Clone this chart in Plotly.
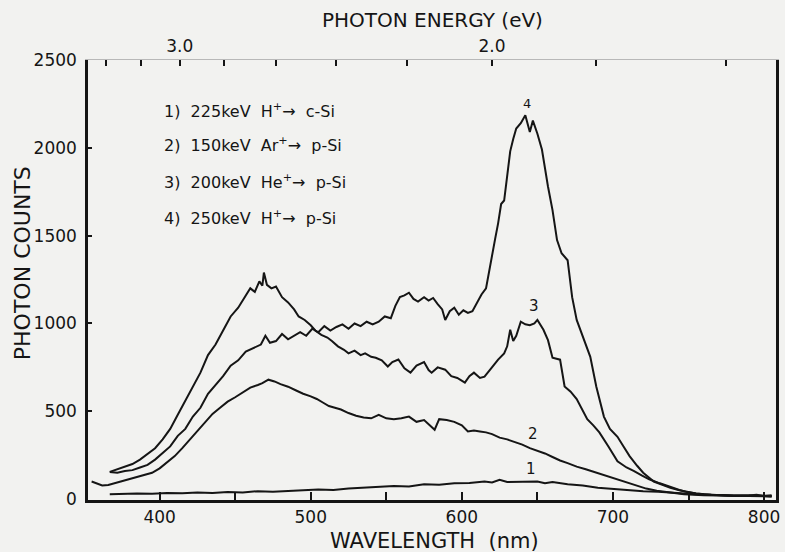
import plotly.graph_objects as go

# ---- data ----
wl1 = [367, 375, 385, 395, 405, 415, 425, 435, 445, 455, 465, 475, 485, 495, 505, 515, 525,
       535, 545, 555, 565, 575, 585, 595, 605, 615, 620, 625, 630, 640, 650, 655, 660, 670,
       680, 690, 700, 710, 720, 730, 740, 750, 760, 770, 780, 790, 800, 805]
c1 = [28, 30, 32, 30, 35, 33, 38, 35, 40, 38, 45, 42, 48, 50, 55, 52, 60,
      65, 70, 75, 72, 85, 82, 90, 92, 100, 95, 110, 98, 100, 100, 90, 98, 85,
      78, 65, 58, 52, 45, 42, 38, 30, 25, 22, 20, 18, 18, 15]

wl2 = [355, 358, 362, 366, 370, 375, 380, 385, 390, 395, 400, 405, 410, 415, 420, 425, 430,
       435, 440, 445, 450, 455, 460, 465, 468, 472, 476, 480, 485, 490, 495, 500, 504, 508,
       512, 516, 520, 525, 530, 535, 540, 545, 550, 555, 560, 565, 570, 575, 580, 582, 585,
       590, 595, 600, 604, 608, 612, 616, 620, 625, 630, 635, 640, 645, 650, 655, 660, 665,
       670, 676, 682, 689, 696, 703, 710, 716, 722, 729, 737, 747, 760, 775, 790, 805]
c2 = [100, 90, 78, 80, 90, 100, 115, 125, 140, 150, 175, 210, 245, 290, 340, 385, 440,
      485, 520, 555, 580, 610, 635, 650, 660, 680, 670, 655, 640, 620, 600, 585, 570, 550,
      530, 520, 510, 490, 475, 465, 460, 480, 460, 455, 460, 470, 440, 450, 410, 395, 455,
      450, 440, 420, 385, 390, 385, 380, 370, 350, 340, 325, 310, 290, 275, 260, 240, 220,
      205, 185, 170, 150, 130, 110, 90, 75, 60, 48, 38, 28, 22, 18, 18, 15]

wl3 = [367, 372, 377, 382, 387, 392, 397, 402, 407, 412, 417, 422, 427, 432, 437, 442, 447,
       452, 457, 460, 463, 466, 468, 469, 471, 474, 477, 481, 485, 489, 492, 496, 500, 503,
       507, 511, 514, 518, 522, 525, 529, 533, 536, 540, 543, 547, 551, 554, 558, 562, 566,
       570, 575, 578, 580, 584, 589, 593, 597, 602, 605, 608, 612, 615, 619, 624, 628, 630,
       632, 634, 636, 639, 642, 645, 648, 650, 654, 657, 660, 665, 668, 672, 676, 683, 687,
       691, 697, 703, 709, 714, 719, 724, 731, 738, 744, 749, 755, 765, 780, 790, 800, 805]
c3 = [155, 170, 185, 200, 225, 260, 290, 340, 400, 480, 560, 640, 720, 820, 880, 960, 1040,
      1090, 1160, 1200, 1180, 1240, 1215, 1290, 1220, 1200, 1210, 1150, 1120, 1080, 1040, 1020, 990, 960,
      935, 920, 900, 870, 850, 830, 845, 820, 830, 810, 805, 790, 755, 780, 795, 745, 720,
      760, 780, 735, 720, 750, 737, 700, 690, 663, 700, 720, 690, 697, 740, 794, 830, 870,
      964, 900, 930, 1010, 995, 990, 1000, 1020, 964, 905, 805, 794, 641, 612, 570, 455, 420,
      380, 300, 215, 180, 160, 135, 113, 90, 68, 52, 40, 32, 25, 20, 22, 20, 18]

wl4 = [367, 372, 377, 382, 387, 392, 397, 402, 407, 412, 417, 422, 427, 432, 437, 442, 447,
       452, 457, 462, 467, 470, 473, 477, 481, 485, 489, 493, 497, 501, 505, 509, 513, 517,
       521, 525, 529, 533, 537, 541, 545, 549, 553, 556, 559, 562, 565, 568, 571, 575, 578,
       581, 584, 587, 589, 592, 595, 598, 601, 604, 607, 610, 613, 616, 618, 620, 622, 624,
       626, 628, 630, 632, 634, 636, 639, 642, 645, 647, 650, 653, 657, 660, 663, 666, 670,
       673, 676, 680, 685, 689, 694, 698, 703, 707, 711, 716, 720, 727, 733, 738, 744, 749,
       755, 760, 770, 780, 790, 795, 800, 805]
c4 = [155, 150, 160, 165, 180, 195, 225, 260, 300, 360, 400, 470, 520, 600, 650, 700, 760,
      790, 840, 860, 880, 930, 890, 900, 940, 910, 930, 950, 930, 970, 950, 985, 960, 980,
      995, 970, 1000, 985, 1010, 995, 1010, 1040, 1030, 1100, 1150, 1160, 1175, 1140, 1125, 1150, 1130,
      1145, 1110, 1080, 1020, 1070, 1090, 1050, 1075, 1060, 1070, 1120, 1165, 1200, 1300, 1400, 1480, 1570,
      1680, 1700, 1850, 1980, 2050, 2110, 2140, 2185, 2090, 2155, 2080, 1990, 1780, 1645, 1475, 1400, 1360,
      1150, 1020, 930, 810, 640, 470, 400, 355, 300, 245, 190, 150, 100, 80, 65, 50, 40,
      32, 28, 22, 18, 20, 25, 18, 22]

legend_lines = ["1)  225keV  H<sup>+</sup>→  c-Si",
                "2)  150keV  Ar<sup>+</sup>→  p-Si",
                "3)  200keV  He<sup>+</sup>→  p-Si",
                "4)  250keV  H<sup>+</sup>→  p-Si"]
legend_y = [0.886, 0.807, 0.723, 0.643]
curve_labels = ["1", "2", "3", "4"]
curve_label_pos = [(646, 170), (647, 368), (648, 1100), (643, 2251)]

energies = [3.4, 3.2, 3.0, 2.8, 2.6, 2.4, 2.2, 2.0, 1.8, 1.6]
energy_labels = {3.0: "3.0", 2.0: "2.0"}

x_ticks = [400, 450, 500, 550, 600, 650, 700, 750, 800]
y_ticks = [0, 500, 1000, 1500, 2000, 2500]

FONT = "DejaVu Sans"
INK = "#151515"
fig = go.Figure()
for wl, c in [(wl1, c1), (wl2, c2), (wl3, c3), (wl4, c4)]:
    fig.add_trace(go.Scatter(x=wl, y=c, mode="lines",
                             line=dict(color=INK, width=2), showlegend=False,
                             hoverinfo="skip"))
# invisible trace so the top (photon energy) axis is drawn
fig.add_trace(go.Scatter(x=[400], y=[0], xaxis="x2", mode="markers",
                         marker=dict(opacity=0), showlegend=False, hoverinfo="skip"))

xr = [352.6, 807.9]
fig.update_layout(
    width=785, height=552,
    margin=dict(l=88, r=5, t=60, b=52),
    paper_bgcolor="#f2f2f0", plot_bgcolor="#f2f2f0",
    font=dict(family=FONT, color=INK, size=17),
    xaxis=dict(range=xr, tickvals=x_ticks,
               ticktext=[str(v) if v % 100 == 0 else "" for v in x_ticks],
               ticks="inside", ticklen=8, tickwidth=1.5, tickcolor=INK,
               showline=True, linewidth=2.5, linecolor=INK, showgrid=False,
               zeroline=False, ticklabelstandoff=0,
               tickfont=dict(size=17, family=FONT)),
    xaxis2=dict(range=xr, overlaying="x", side="top",
                tickvals=[1239.84 / e for e in energies],
                ticktext=[energy_labels.get(e, "") for e in energies],
                ticks="inside", ticklen=6, tickwidth=1.5, tickcolor=INK,
                showline=True, linewidth=1, linecolor="#b8b8b8", showgrid=False,
                zeroline=False, tickfont=dict(size=17, family=FONT)),
    yaxis=dict(range=[-5, 2500], tickvals=y_ticks,
               ticks="inside", ticklen=4, tickwidth=1.5, tickcolor=INK,
               showline=True, linewidth=2.5, linecolor=INK, mirror=True,
               showgrid=False, zeroline=False, ticklabelstandoff=5,
               tickfont=dict(size=17, family=FONT)),
)

ann = []
ann.append(dict(text="PHOTON ENERGY (eV)", x=0.50, y=1.091, xref="paper", yref="paper",
                xanchor="center", yanchor="middle",
                showarrow=False, font=dict(size=20, family=FONT)))
ann.append(dict(text="WAVELENGTH  (nm)", x=0.504, y=-0.093, xref="paper", yref="paper",
                xanchor="center", yanchor="middle",
                showarrow=False, font=dict(size=21, family=FONT)))
ann.append(dict(text="PHOTON COUNTS", x=-0.0954, y=0.539, xref="paper", yref="paper",
                xanchor="center", yanchor="middle",
                textangle=-90, showarrow=False, font=dict(size=22, family=FONT)))
for t, ly in zip(legend_lines, legend_y):
    ann.append(dict(text=t, x=0.108, y=ly, xref="paper", yref="paper",
                    xanchor="left", yanchor="middle", showarrow=False,
                    font=dict(size=16, family=FONT)))
for lab, (lx, ly) in zip(curve_labels, curve_label_pos):
    ann.append(dict(text=lab, x=lx, y=ly, xref="x", yref="y", showarrow=False,
                    xanchor="center", yanchor="middle",
                    font=dict(size=15 if lab != "4" else 13, family=FONT)))
fig.update_layout(annotations=ann)

fig.write_html("out.html",
               config={"displayModeBar": False},
               post_script="document.body.style.margin='0';"
                           "document.body.style.overflow='hidden';")
